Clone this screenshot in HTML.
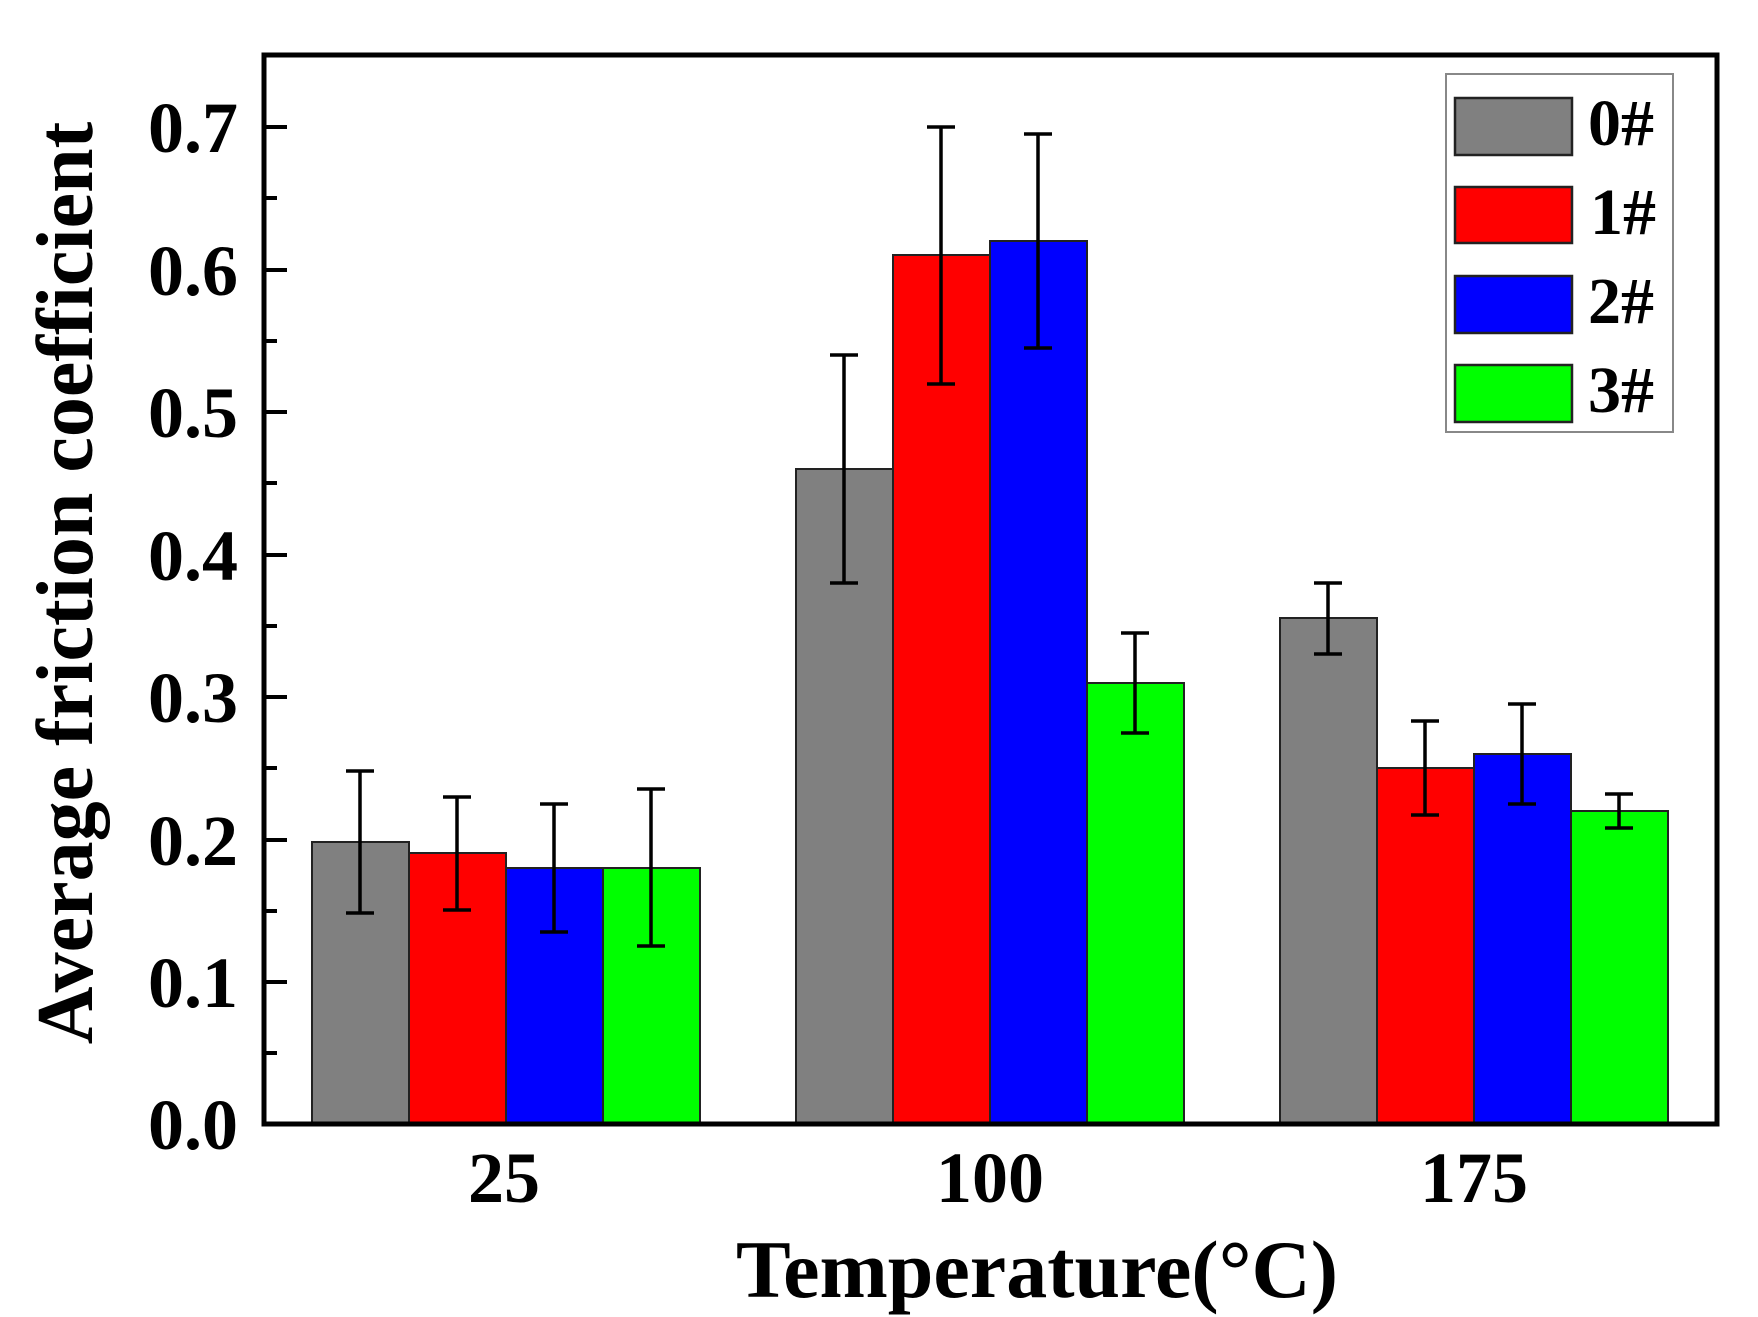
<!DOCTYPE html>
<html><head><meta charset="utf-8"><style>
html,body{margin:0;padding:0;background:#fff;}
svg{display:block;}
text{font-family:"Liberation Serif",serif;font-weight:bold;fill:#000;}
</style></head><body>
<svg width="1758" height="1317" viewBox="0 0 1758 1317" xmlns="http://www.w3.org/2000/svg">
<g stroke="#222" stroke-width="2">
<!-- group 25 -->
<rect x="312" y="842" width="97" height="282" fill="#808080"/>
<rect x="409" y="853" width="97" height="271" fill="#ff0000"/>
<rect x="506" y="868" width="97" height="256" fill="#0000ff"/>
<rect x="603" y="868" width="97" height="256" fill="#00ff00"/>
<!-- group 100 -->
<rect x="796" y="469" width="97" height="655" fill="#808080"/>
<rect x="893" y="255" width="97" height="869" fill="#ff0000"/>
<rect x="990" y="241" width="97" height="883" fill="#0000ff"/>
<rect x="1087" y="683" width="97" height="441" fill="#00ff00"/>
<!-- group 175 -->
<rect x="1280" y="618" width="97" height="506" fill="#808080"/>
<rect x="1377" y="768" width="97" height="356" fill="#ff0000"/>
<rect x="1474" y="754" width="97" height="370" fill="#0000ff"/>
<rect x="1571" y="811" width="97" height="313" fill="#00ff00"/>
</g>
<g stroke="#000" stroke-width="3.5" fill="none">
<!-- error bars: x, top, bottom -->
<path d="M360 771V913M346 771H374M346 913H374"/>
<path d="M457 797V910M443 797H471M443 910H471"/>
<path d="M554 804V932M540 804H568M540 932H568"/>
<path d="M651 789V946M637 789H665M637 946H665"/>
<path d="M844 355V583M830 355H858M830 583H858"/>
<path d="M941 127V384M927 127H955M927 384H955"/>
<path d="M1038 134V348M1024 134H1052M1024 348H1052"/>
<path d="M1135 633V733M1121 633H1149M1121 733H1149"/>
<path d="M1328 583V654M1314 583H1342M1314 654H1342"/>
<path d="M1425 721V815M1411 721H1439M1411 815H1439"/>
<path d="M1522 704V804M1508 704H1536M1508 804H1536"/>
<path d="M1619 794V828M1605 794H1633M1605 828H1633"/>
</g>
<!-- axes frame -->
<rect x="264" y="55" width="1453" height="1069" fill="none" stroke="#000" stroke-width="5"/>
<g stroke="#000" stroke-width="4">
<path d="M264 982H287M264 840H287M264 697H287M264 555H287M264 412H287M264 270H287M264 127H287"/>
<path d="M264 1053H277M264 911H277M264 768H277M264 626H277M264 483H277M264 341H277M264 198H277"/>
</g>
<g font-size="72" text-anchor="end">
<text x="238" y="1149">0.0</text>
<text x="238" y="1007">0.1</text>
<text x="238" y="865">0.2</text>
<text x="238" y="722">0.3</text>
<text x="238" y="580">0.4</text>
<text x="238" y="437">0.5</text>
<text x="238" y="295">0.6</text>
<text x="238" y="152">0.7</text>
</g>
<g font-size="72" text-anchor="middle">
<text x="504" y="1202">25</text>
<text x="990" y="1202">100</text>
<text x="1474" y="1202">175</text>
</g>
<text x="1037" y="1297" font-size="82" text-anchor="middle">Temperature(°C)</text>
<text transform="translate(92,583) rotate(-90)" font-size="80" text-anchor="middle">Average friction coefficient</text>
<!-- legend -->
<rect x="1446" y="74" width="227" height="358" fill="#fff" stroke="#888" stroke-width="2"/>
<g stroke="#222" stroke-width="2.5">
<rect x="1455" y="98" width="117" height="57" fill="#808080"/>
<rect x="1455" y="187" width="117" height="56" fill="#ff0000"/>
<rect x="1455" y="276" width="117" height="57" fill="#0000ff"/>
<rect x="1455" y="365" width="117" height="57" fill="#00ff00"/>
</g>
<g font-size="66">
<text x="1588" y="145">0#</text>
<text x="1590" y="234">1#</text>
<text x="1588" y="323">2#</text>
<text x="1588" y="412">3#</text>
</g>
</svg>
</body></html>
